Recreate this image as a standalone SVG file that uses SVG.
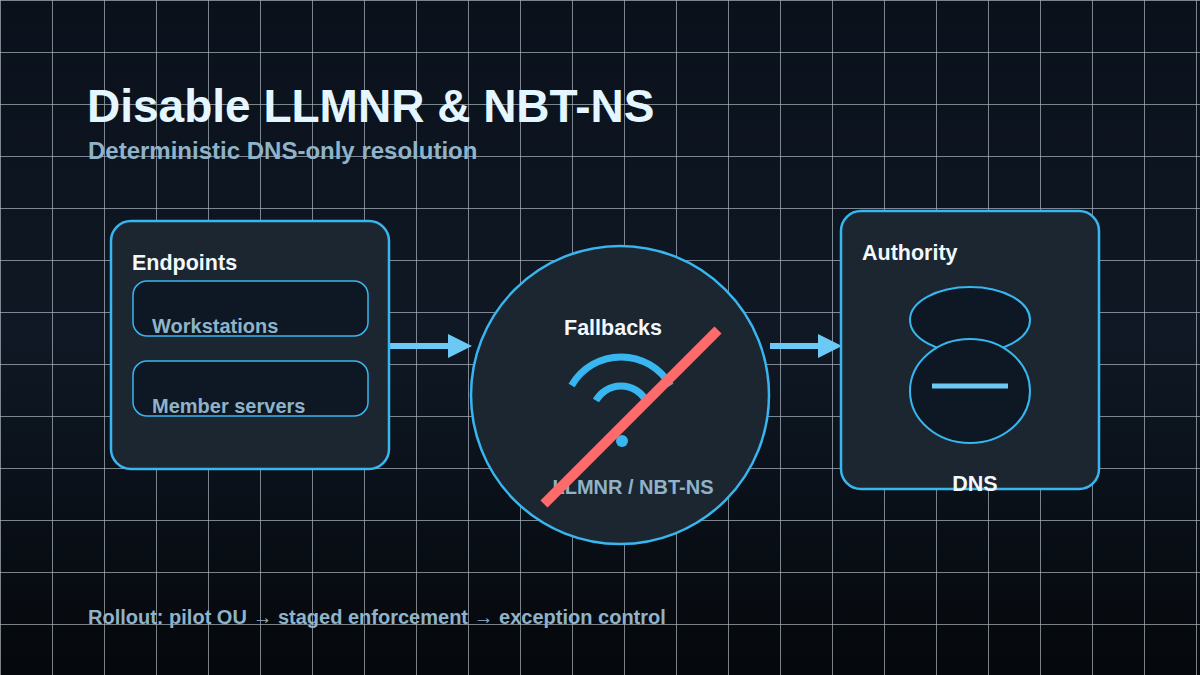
<svg xmlns="http://www.w3.org/2000/svg" width="1200" height="675" viewBox="0 0 1200 675">
<defs>
<linearGradient id="bg" x1="0" y1="0" x2="0" y2="1"><stop offset="0" stop-color="#0a111b"/><stop offset="0.5" stop-color="#0f1824"/><stop offset="1" stop-color="#05080c"/></linearGradient>
<pattern id="grid" width="52" height="52" patternUnits="userSpaceOnUse"><path d="M0 0H52M0 0V52" fill="none" stroke="#c8d2dc" stroke-opacity="0.8" stroke-width="1.5"/></pattern>
<marker id="ah" markerWidth="4" markerHeight="4" refX="0" refY="2" orient="auto" markerUnits="strokeWidth"><path d="M0 0L4 2L0 4z" fill="#6cc8f5"/></marker>
</defs>
<style>
text{font-family:"Liberation Sans",Arial,sans-serif;font-weight:bold}
.card{fill:#1c2631;stroke:#38b6f0;stroke-width:2.5}
.sub{fill:#0d1824;stroke:#38b6f0;stroke-width:1.5}
.lbl{fill:#f2f8fc;font-size:21.5px}
.muted{fill:#8fb3c8;font-size:20px}
.conn{stroke:#6cc8f5;stroke-width:6;fill:none}
</style>
<rect width="1200" height="675" fill="url(#bg)"/>
<rect width="1200" height="675" fill="url(#grid)"/>
<text x="87" y="122" font-size="46" fill="#e4f6ff">Disable LLMNR &amp; NBT-NS</text>
<text x="88" y="159" font-size="24" fill="#8fb3c8">Deterministic DNS-only resolution</text>
<g id="connectors">
<line class="conn" x1="390" y1="346" x2="448" y2="346" marker-end="url(#ah)"/>
<line class="conn" x1="770" y1="346" x2="818" y2="346" marker-end="url(#ah)"/>
</g>
<g id="endpoints">
<rect class="card" x="111" y="221" width="278" height="248" rx="20"/>
<text class="lbl" x="132" y="270">Endpoints</text>
<rect class="sub" x="133" y="281" width="235" height="55" rx="14"/>
<text class="muted" x="152" y="333">Workstations</text>
<rect class="sub" x="133" y="361" width="235" height="55" rx="14"/>
<text class="muted" x="152" y="413">Member servers</text>
</g>
<g id="fallbacks">
<circle cx="620" cy="395" r="149" fill="#1c2631" stroke="#38b6f0" stroke-width="2.5"/>
<text class="lbl" x="613" y="335" text-anchor="middle">Fallbacks</text>
<path d="M571.6 385.5A57 57 0 0 1 670.4 385.5M595.9 400.5A29 29 0 0 1 646.1 400.5" fill="none" stroke="#38b6f0" stroke-width="7"/>
<circle cx="622" cy="441" r="6" fill="#38b6f0"/>
<text class="muted" x="633" y="494" text-anchor="middle">LLMNR / NBT-NS</text>
<line x1="544" y1="504" x2="718" y2="330" stroke="#ff6b6b" stroke-width="10"/>
</g>
<g id="authority">
<rect class="card" x="841" y="211" width="258" height="278" rx="20"/>
<text class="lbl" x="862" y="260">Authority</text>
<ellipse cx="970" cy="320" rx="60" ry="33" fill="#0d1824" stroke="#38b6f0" stroke-width="2"/>
<ellipse cx="970" cy="391" rx="60" ry="52" fill="#0d1824" stroke="#38b6f0" stroke-width="2"/>
<line x1="932" y1="386" x2="1008" y2="386" stroke="#6cc8f5" stroke-width="5"/>
<text class="lbl" x="975" y="491" text-anchor="middle">DNS</text>
</g>
<text x="88" y="624" font-size="20" fill="#8fb3c8">Rollout: pilot OU → staged enforcement → exception control</text>
</svg>
